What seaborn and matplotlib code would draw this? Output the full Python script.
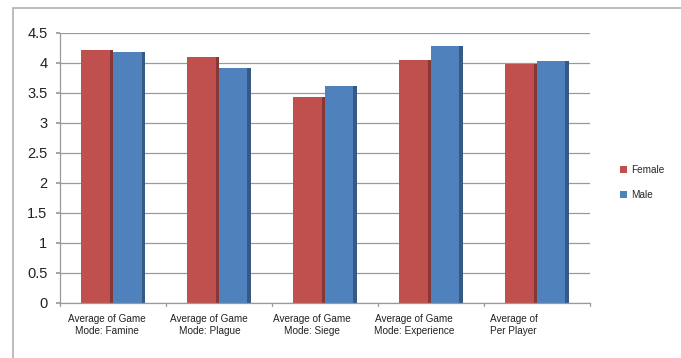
import matplotlib
matplotlib.use("Agg")
import matplotlib.pyplot as plt
from matplotlib.patches import Rectangle
import seaborn as sns
import pandas as pd

categories = [
    "Average of Game\nMode: Famine",
    "Average of Game\nMode: Plague",
    "Average of Game\nMode: Siege",
    "Average of Game\nMode: Experience",
    "Average of\nPer Player",
]
female = [4.21, 4.10, 3.44, 4.05, 3.99]
male = [4.18, 3.92, 3.62, 4.29, 4.03]
series = ["Female", "Male"]
colors = {"Female": "#C0504D", "Male": "#4F81BD"}
yticks = [0, 0.5, 1, 1.5, 2, 2.5, 3, 3.5, 4, 4.5]

df = pd.DataFrame({
    "category": categories * 2,
    "value": female + male,
    "gender": ["Female"] * len(categories) + ["Male"] * len(categories),
})

sns.set_theme(style="white")
plt.rcParams["font.family"] = ["Liberation Sans", "DejaVu Sans"]

fig = plt.figure(figsize=(6.81, 3.58), dpi=100)
ax = fig.add_axes([0.088, 0.154, 0.778, 0.754])

sns.barplot(data=df, x="category", y="value", hue="gender", hue_order=series,
            palette=colors, width=0.6, saturation=1, ax=ax, legend=True,
            edgecolor="none", linewidth=0)

# darker right-hand edge on each bar for a bit of depth
for patch in ax.patches:
    if patch.get_height() <= 0:
        continue
    fc = patch.get_facecolor()
    x0 = patch.get_x() + patch.get_width() * 0.9
    ax.add_patch(Rectangle((x0, 0), patch.get_width() * 0.1, patch.get_height(),
                           facecolor=(fc[0] * 0.7, fc[1] * 0.7, fc[2] * 0.7),
                           edgecolor="none", zorder=patch.get_zorder() + 0.1))

ax.set_ylim(0, 4.5)
ax.set_xlim(-0.5, len(categories) - 0.5)
ax.set_yticks(yticks)
ax.set_yticklabels([f"{t:g}" for t in yticks], fontsize=10.5, color="#222222")

# category labels sit slightly left of their bars (perspective look)
label_shift = [0.06, 0.09, 0.12, 0.16, 0.22]
ax.set_xticks([i - s for i, s in enumerate(label_shift)])
ax.set_xticklabels(categories, fontsize=7.2, color="#222222", linespacing=1.2,
                   multialignment="center")
ax.set_xlabel("")
ax.set_ylabel("")
ax.yaxis.grid(True, color="#9a9a9a", linewidth=0.9)
ax.set_axisbelow(True)

for side in ["top", "right"]:
    ax.spines[side].set_visible(False)
for side in ["left", "bottom"]:
    ax.spines[side].set_color("#9a9a9a")
    ax.spines[side].set_linewidth(0.9)

ax.tick_params(axis="y", length=3, color="#9a9a9a", pad=6, left=True)
ax.tick_params(axis="x", length=0, pad=8)
# category separator ticks on the x axis
for b in range(len(categories) + 1):
    ax.plot([b - 0.5, b - 0.5], [0, -0.06], color="#9a9a9a", lw=0.9,
            clip_on=False)

leg = ax.legend(loc="center left", bbox_to_anchor=(1.04, 0.447), frameon=False,
                fontsize=7.2, handlelength=0.7, handleheight=0.7,
                handletextpad=0.4, labelspacing=1.5)

# chart area border
fig.add_artist(Rectangle((13 / 681, -0.05), 1.0, 1 - 8 / 358 + 0.05,
                         transform=fig.transFigure, fill=False,
                         edgecolor="#b0b0b0", linewidth=1.2))

fig.savefig("out.png", dpi=100, facecolor="white")
